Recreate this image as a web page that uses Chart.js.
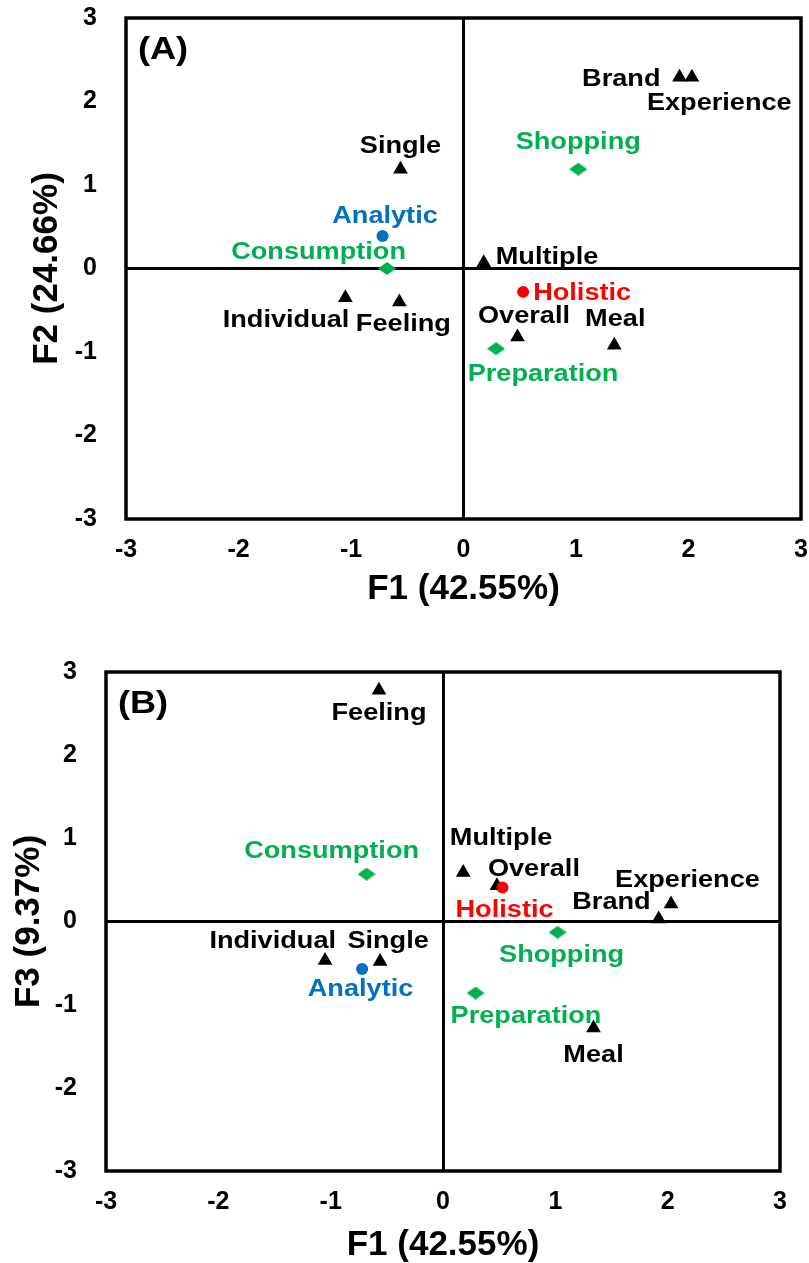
<!DOCTYPE html>
<html>
<head>
<meta charset="utf-8">
<script src="https://cdn.jsdelivr.net/npm/chart.js@4.4.1/dist/chart.umd.min.js"></script>
<style>
  html, body { margin: 0; padding: 0; background: #ffffff; }
  #wrap { position: relative; width: 809px; height: 1263px; overflow: hidden; }
  canvas { position: absolute; left: 0; }
  #chartA { top: 0; }
  #chartB { top: 625px; }
</style>
</head>
<body>
<div id="wrap">
  <canvas id="chartA" width="809" height="625"></canvas>
  <canvas id="chartB" width="809" height="638"></canvas>
</div>
<script>
// Correspondence analysis scores on dimensions F1, F2 and F3
const termNames = ['Individual', 'Single', 'Feeling', 'Multiple', 'Overall', 'Meal', 'Brand', 'Experience'];
const termF1 = [-1.05, -0.56, -0.57, 0.18, 0.48, 1.34, 1.92, 2.03];
const termF2 = [-0.35, 1.19, -0.40, 0.07, -0.82, -0.92, 2.29, 2.29];
const termF3 = [-0.47, -0.48, 2.78, 0.59, 0.43, -1.28, 0.03, 0.21];

const styleNames = ['Analytic', 'Holistic'];
const styleF1 = [-0.72, 0.53];
const styleF2 = [0.39, -0.28];
const styleF3 = [-0.57, 0.41];

const stageNames = ['Consumption', 'Preparation', 'Shopping'];
const stageF1 = [-0.68, 0.29, 1.02];
const stageF2 = [0.00, -0.96, 1.19];
const stageF3 = [0.57, -0.86, -0.13];

const axisTicks = [-3, -2, -1, 0, 1, 2, 3];

const FONT = '"Liberation Sans", Arial, Helvetica, sans-serif';
const BLACK = '#000000';
const GREEN = '#00B050';
const BLUE = '#0070C0';
const RED = '#FF0000';
const styleColors = [BLUE, RED];

// Label placement: [anchor, dx, dy] relative to the marker (dy = offset of cap centre)
const placementA = {
  Brand: ['right', -19, 0],
  Experience: ['left', -45, 24.5],
  Single: ['center', 0, -24.5],
  Shopping: ['center', 0, -28],
  Analytic: ['center', 2.5, -21.5],
  Consumption: ['right', 19, -18],
  Multiple: ['left', 12, -7],
  Holistic: ['left', 10, 0],
  Individual: ['right', 4, 21],
  Feeling: ['center', 4, 21],
  Overall: ['center', 6.5, -22.5],
  Meal: ['center', 1, -28],
  Preparation: ['left', -28.5, 24]
};
const placementB = {
  Feeling: ['center', 0, 21.5],
  Consumption: ['center', -35, -24.6],
  Multiple: ['left', -13.4, -36],
  Overall: ['left', -9, -18],
  Holistic: ['center', 2, 21.5],
  Experience: ['left', -56, -25],
  Brand: ['right', -8, -18],
  Shopping: ['center', 4, 21.5],
  Individual: ['right', 11, -20.7],
  Single: ['center', 8, -21.7],
  Analytic: ['center', -1.6, 19],
  Preparation: ['left', -25, 21.3],
  Meal: ['center', 0, 26]
};

// Marker sprites
function sprite(w, h, draw) {
  const c = document.createElement('canvas');
  c.width = w; c.height = h;
  const g = c.getContext('2d');
  draw(g, w, h);
  return c;
}
const diamond = sprite(18, 13, (g, w, h) => {
  g.fillStyle = GREEN;
  g.beginPath();
  g.moveTo(w / 2, 0); g.lineTo(w, h / 2); g.lineTo(w / 2, h); g.lineTo(0, h / 2);
  g.closePath(); g.fill();
});

const pointLabels = {
  id: 'pointLabels',
  afterDatasetsDraw(chart, args, opts) {
    const ctx = chart.ctx;
    const size = opts.size, sx = opts.stretch;
    ctx.save();
    ctx.font = 'bold ' + size + 'px ' + FONT;
    ctx.textBaseline = 'alphabetic';
    ctx.textAlign = 'left';
    chart.data.datasets.forEach((ds, di) => {
      const meta = chart.getDatasetMeta(di);
      meta.data.forEach((pt, i) => {
        const name = ds.names[i];
        const place = opts.placement[name];
        const w = ctx.measureText(name).width * sx;
        let left = pt.x + place[1];
        if (place[0] === 'center') left -= w / 2;
        else if (place[0] === 'right') left -= w;
        const base = pt.y + place[2] + size * 0.716 / 2;
        ctx.save();
        ctx.translate(left, base);
        ctx.scale(sx, 1);
        ctx.fillStyle = Array.isArray(ds.labelColor) ? ds.labelColor[i] : ds.labelColor;
        ctx.fillText(name, 0, 0);
        ctx.restore();
      });
    });
    ctx.restore();
  }
};

const frame = {
  id: 'frame',
  beforeDatasetsDraw(chart, args, opts) {
    const { ctx, chartArea } = chart;
    const { left, top, right, bottom } = chartArea;
    ctx.save();
    ctx.strokeStyle = BLACK;
    ctx.lineWidth = opts.width;
    ctx.strokeRect(left, top, right - left, bottom - top);
    ctx.font = 'bold ' + opts.tagSize + 'px ' + FONT;
    ctx.fillStyle = BLACK;
    ctx.textBaseline = 'alphabetic';
    const w = ctx.measureText(opts.tag).width * opts.tagStretch;
    ctx.translate(left + opts.tagDx - w / 2, top + opts.tagDy + opts.tagSize * 0.716 / 2);
    ctx.scale(opts.tagStretch, 1);
    ctx.fillText(opts.tag, 0, 0);
    ctx.restore();
  }
};

function points(xs, ys) {
  return xs.map((x, i) => ({ x: x, y: ys[i] }));
}

function makeAxis(title, opts) {
  const horizontal = opts.horizontal;
  return {
    type: 'linear',
    position: horizontal ? 'bottom' : 'left',
    min: -3,
    max: 3,
    afterBuildTicks(scale) { scale.ticks = axisTicks.map(v => ({ value: v })); },
    afterFit(scale) {
      if (horizontal) scale.height = opts.thickness;
      else scale.width = opts.thickness;
      // the plot frame is fixed by the layout padding alone
      scale.paddingTop = 0;
      scale.paddingBottom = 0;
      scale.paddingLeft = 0;
      scale.paddingRight = 0;
    },
    ticks: {
      color: BLACK,
      font: { family: FONT, size: 25, weight: 'bold' },
      padding: opts.tickPad,
      autoSkip: false,
      maxRotation: 0,
      callback: v => String(v)
    },
    grid: {
      drawTicks: false,
      tickLength: 0,
      lineWidth: 3,
      color: ctx => (ctx.tick && ctx.tick.value === 0 ? BLACK : 'rgba(0,0,0,0)')
    },
    border: { display: false },
    title: {
      display: true,
      text: title,
      color: BLACK,
      font: { family: FONT, size: 35, weight: 'bold', lineHeight: 1 },
      padding: opts.titlePad
    }
  };
}

function buildChart(id, cfg) {
  return new Chart(document.getElementById(id), {
    type: 'scatter',
    data: {
      datasets: [
        {
          names: styleNames,
          labelColor: styleColors,
          data: points(styleF1, cfg.styleY),
          pointStyle: 'circle',
          pointRadius: 6,
          pointBackgroundColor: styleColors,
          pointBorderWidth: 0
        },
        {
          names: stageNames,
          labelColor: GREEN,
          data: points(stageF1, cfg.stageY),
          pointStyle: diamond,
          pointRadius: 9,
          pointBackgroundColor: GREEN,
          pointBorderWidth: 0
        },
        {
          names: termNames,
          labelColor: BLACK,
          data: points(termF1, cfg.termY),
          pointStyle: 'triangle',
          pointRadius: 8.5,
          pointBackgroundColor: BLACK,
          pointBorderWidth: 0
        }
      ]
    },
    options: {
      responsive: false,
      animation: false,
      devicePixelRatio: 1,
      layout: { padding: cfg.padding, autoPadding: false },
      plugins: {
        legend: { display: false },
        tooltip: { enabled: false },
        pointLabels: { size: 23, stretch: 1.18, placement: cfg.placement },
        frame: { width: 3.5, tag: cfg.tag, tagSize: 32, tagStretch: 1.13, tagDx: 37, tagDy: 30 }
      },
      scales: {
        x: makeAxis('F1 (42.55%)', { horizontal: true, thickness: cfg.xThickness, tickPad: 16, titlePad: { top: 0, bottom: cfg.xTitlePad } }),
        y: makeAxis(cfg.yTitle, { horizontal: false, thickness: cfg.yThickness, tickPad: 29, titlePad: { top: cfg.yTitlePad, bottom: 0 } })
      }
    },
    plugins: [frame, pointLabels]
  });
}

buildChart('chartA', {
  tag: '(A)',
  yTitle: 'F2 (24.66%)',
  termY: termF2, styleY: styleF2, stageY: stageF2,
  placement: placementA,
  padding: { left: 0, top: 18, right: 8, bottom: 0 },
  xThickness: 106, yThickness: 126,
  xTitlePad: 18.5, yTitlePad: 29.5
});

buildChart('chartB', {
  tag: '(B)',
  yTitle: 'F3 (9.37%)',
  termY: termF3, styleY: styleF3, stageY: stageF3,
  placement: placementB,
  padding: { left: 0, top: 47, right: 29, bottom: 0 },
  xThickness: 92, yThickness: 106,
  xTitlePad: 0.5, yTitlePad: 11.5
});
</script>
</body>
</html>
